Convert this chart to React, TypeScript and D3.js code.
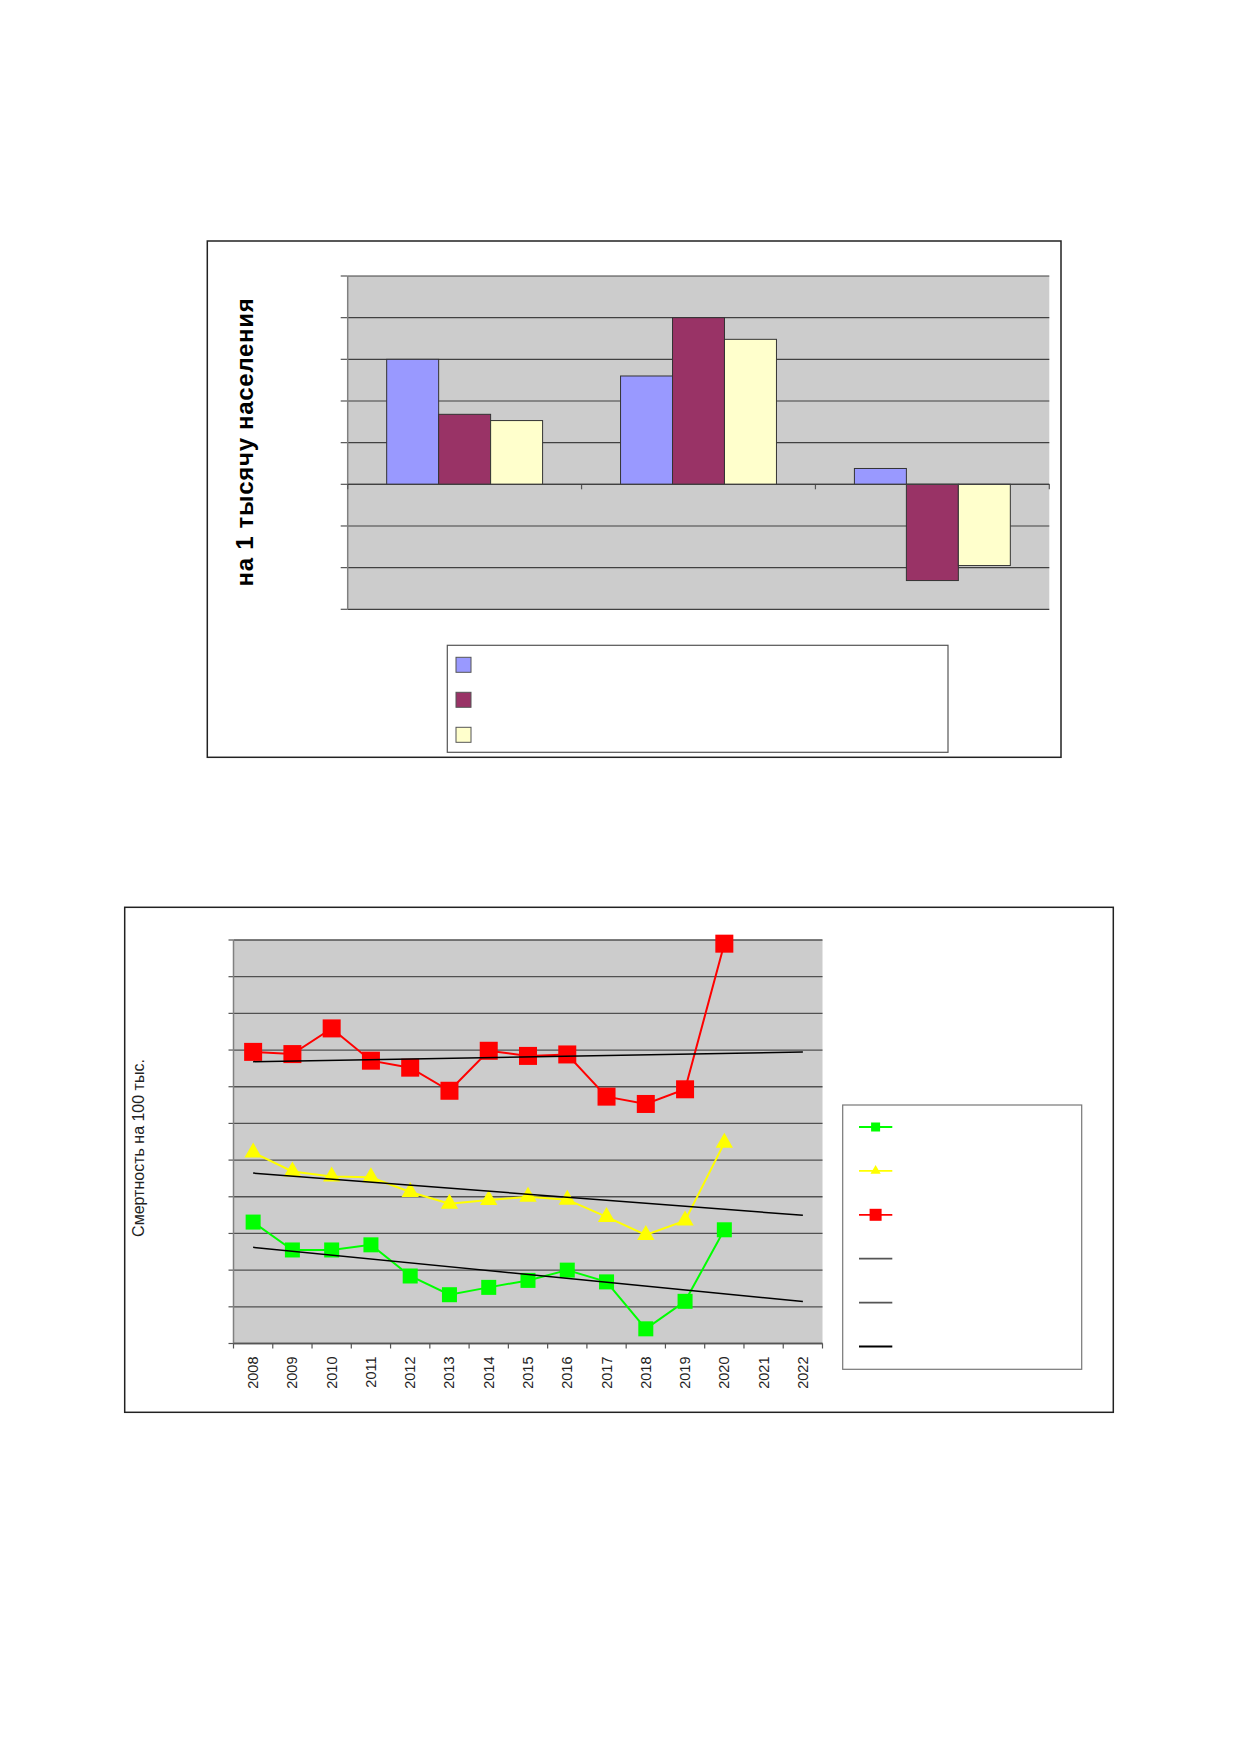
import React from 'react';
import * as d3 from 'd3';

// ---- bar chart data (values in gridline units, labels are blank in the source) ----
const barCategories = ['g1', 'g2', 'g3'];
const barSeries = ['s1', 's2', 's3'];
const barColors = ['#9999FF', '#993366', '#FFFFCC'];
const barValuesS1 = [3.0, 2.6, 0.38];
const barValuesS2 = [1.68, 4.0, -2.31];
const barValuesS3 = [1.53, 3.48, -1.95];
const barTicks = [-3, -2, -1, 0, 1, 2, 3, 4, 5];

// ---- line chart data ----
const years = ['2008', '2009', '2010', '2011', '2012', '2013', '2014', '2015', '2016', '2017', '2018', '2019', '2020', '2021', '2022'];
const redValues = [7.95, 7.89, 8.59, 7.71, 7.52, 6.89, 7.98, 7.84, 7.88, 6.73, 6.53, 6.93, 10.9];
const yellowValues = [5.21, 4.69, 4.55, 4.53, 4.13, 3.81, 3.91, 4.0, 3.92, 3.45, 2.96, 3.35, 5.47];
const greenValues = [3.31, 2.55, 2.55, 2.69, 1.84, 1.33, 1.53, 1.72, 2.0, 1.68, 0.40, 1.15, 3.10];
const lineTicks = d3.range(0, 12);

// least squares trendline, as the spreadsheet draws it, projected to the last year
function trend(values: number[], toIndex: number) {
  const xs = values.map((_, i) => i);
  const mx = d3.mean(xs)!;
  const my = d3.mean(values)!;
  const sxy = d3.sum(values, (v, i) => (i - mx) * (v - my));
  const sxx = d3.sum(xs, x => (x - mx) * (x - mx));
  const b = sxy / sxx;
  const a = my - b * mx;
  return [{ i: 0, v: a }, { i: toIndex, v: a + b * toIndex }];
}

const BarChart: React.FC = () => {
  const left = 347.7, right = 1049.3, top = 276, bottom = 609.3;
  const y = d3.scaleLinear().domain([-3, 5]).range([bottom, top]);
  const x0 = d3.scaleBand().domain(barCategories).range([left, right]).padding(0);
  const x1 = d3.scaleBand().domain(barSeries).range([0, x0.bandwidth()]).paddingInner(0).paddingOuter(0.75);
  const values = [barValuesS1, barValuesS2, barValuesS3];
  const y0 = y(0);

  return (
    <g>
      <rect x={207.3} y={241} width={1061 - 207.3} height={757.3 - 241} fill="#fff" stroke="#222" strokeWidth={1.5} />
      <rect x={left} y={top} width={right - left} height={bottom - top} fill="#CCCCCC" />
      {barTicks.map(t => (
        <g key={t}>
          <line x1={left} x2={right} y1={y(t)} y2={y(t)} stroke="#404040" strokeWidth={1.2} />
          <line x1={left - 7} x2={left} y1={y(t)} y2={y(t)} stroke="#555" strokeWidth={1.2} />
        </g>
      ))}
      <line x1={left} x2={left} y1={top} y2={bottom} stroke="#808080" strokeWidth={1.5} />
      {d3.range(barCategories.length + 1).map(i => {
        const xx = left + i * x0.step();
        return <line key={i} x1={xx} x2={xx} y1={y0} y2={y0 + 5} stroke="#555" strokeWidth={1.2} />;
      })}
      {barCategories.map((c, ci) => (
        <g key={c}>
          {barSeries.map((s, si) => {
            const v = values[si][ci];
            const bx = x0(c)! + x1(s)!;
            return (
              <rect key={s} x={bx} y={Math.min(y(v), y0)} width={x1.bandwidth()} height={Math.abs(y(v) - y0)}
                fill={barColors[si]} stroke="#333" strokeWidth={1} />
            );
          })}
        </g>
      ))}
      <line x1={left} x2={right} y1={y0} y2={y0} stroke="#404040" strokeWidth={1.2} />
      <text transform="translate(253,442) rotate(-90)" textAnchor="middle"
        style={{ fontFamily: 'Liberation Sans, Arial, sans-serif', fontWeight: 'bold', fontSize: 24, letterSpacing: 0.7 }}>
        на 1 тысячу населения
      </text>
      <rect x={447.3} y={645.3} width={948 - 447.3} height={752.3 - 645.3} fill="#fff" stroke="#555" strokeWidth={1.2} />
      {barSeries.map((s, i) => (
        <rect key={s} x={456} y={657.3 + i * 35} width={15} height={15} fill={barColors[i]} stroke="#555" strokeWidth={1} />
      ))}
    </g>
  );
};

const LineChart: React.FC = () => {
  const left = 233.5, right = 822.5, top = 940, bottom = 1343.5;
  const x = d3.scaleBand().domain(years).range([left, right]);
  const y = d3.scaleLinear().domain([0, 11]).range([bottom, top]);
  const cx = (i: number) => x(years[i])! + x.bandwidth() / 2;
  const line = d3.line<number>().x((_, i) => cx(i)).y(v => y(v));
  const trendLine = d3.line<{ i: number; v: number }>().x(d => cx(d.i)).y(d => y(d.v));
  const last = years.length - 1;
  const trends = [trend(redValues, last), trend(yellowValues, last), trend(greenValues, last)];
  const tri = d3.symbol().type(d3.symbolTriangle).size(130);
  const font = { fontFamily: 'Liberation Sans, Arial, sans-serif' };

  return (
    <g>
      <rect x={124.7} y={907.3} width={1113.3 - 124.7} height={1412.3 - 907.3} fill="#fff" stroke="#222" strokeWidth={1.5} />
      <rect x={left} y={top} width={right - left} height={bottom - top} fill="#CCCCCC" />
      {lineTicks.map(t => (
        <g key={t}>
          <line x1={left} x2={right} y1={y(t)} y2={y(t)} stroke="#505050" strokeWidth={1.3} />
          <line x1={left - 5} x2={left} y1={y(t)} y2={y(t)} stroke="#555" strokeWidth={1.2} />
        </g>
      ))}
      <line x1={left} x2={left} y1={top} y2={bottom} stroke="#808080" strokeWidth={1.5} />
      <line x1={left} x2={right} y1={bottom} y2={bottom} stroke="#555" strokeWidth={1.3} />
      {d3.range(years.length + 1).map(i => {
        const xx = left + i * x.step();
        return <line key={i} x1={xx} x2={xx} y1={bottom} y2={bottom + 5} stroke="#555" strokeWidth={1.2} />;
      })}
      {years.map((yr, i) => (
        <text key={yr} transform={`translate(${cx(i) + 5},${bottom + 13}) rotate(-90)`} textAnchor="end"
          style={{ ...font, fontSize: 14.5 }} fill="#222">{yr}</text>
      ))}
      <text transform="translate(144.3,1148) rotate(-90)" textAnchor="middle" style={{ ...font, fontSize: 16 }} fill="#222">
        Смертность на 100 тыс.
      </text>

      {/* series */}
      <path d={line(greenValues)!} fill="none" stroke="#00FF00" strokeWidth={2} />
      <path d={line(yellowValues)!} fill="none" stroke="#FFFF00" strokeWidth={2} />
      <path d={line(redValues)!} fill="none" stroke="#FF0000" strokeWidth={2} />
      {greenValues.map((v, i) => (
        <rect key={i} x={cx(i) - 7.5} y={y(v) - 7.5} width={15} height={15} fill="#00FF00" />
      ))}
      {yellowValues.map((v, i) => (
        <path key={i} d={tri()!} transform={`translate(${cx(i)},${y(v)})`} fill="#FFFF00" />
      ))}
      {redValues.map((v, i) => (
        <rect key={i} x={cx(i) - 9} y={y(v) - 9} width={18} height={18} fill="#FF0000" />
      ))}
      {trends.map((t, i) => (
        <path key={i} d={trendLine(t)!} fill="none" stroke="#000" strokeWidth={1.5} />
      ))}

      {/* legend */}
      <rect x={842.7} y={1105} width={1081.7 - 842.7} height={1369.3 - 1105} fill="#fff" stroke="#777" strokeWidth={1.2} />
      {[
        { c: '#00FF00', m: 'sq', s: 9 },
        { c: '#FFFF00', m: 'tri', s: 9 },
        { c: '#FF0000', m: 'sq', s: 12 },
        { c: '#555', m: '', s: 0 },
        { c: '#555', m: '', s: 0 },
        { c: '#000', m: '', s: 0 },
      ].map((e, i) => {
        const ly = 1127 + i * 43.9;
        return (
          <g key={i}>
            <line x1={859} x2={892.3} y1={ly} y2={ly} stroke={e.c} strokeWidth={1.8} />
            {e.m === 'sq' && <rect x={875.6 - e.s / 2} y={ly - e.s / 2} width={e.s} height={e.s} fill={e.c} />}
            {e.m === 'tri' && <path d={d3.symbol().type(d3.symbolTriangle).size(45)()!} transform={`translate(875.6,${ly})`} fill={e.c} />}
          </g>
        );
      })}
    </g>
  );
};

export default function App() {
  return (
    <svg width={1239} height={1752} style={{ position: 'absolute', left: 0, top: 0, background: '#fff' }}>
      <BarChart />
      <LineChart />
    </svg>
  );
}
